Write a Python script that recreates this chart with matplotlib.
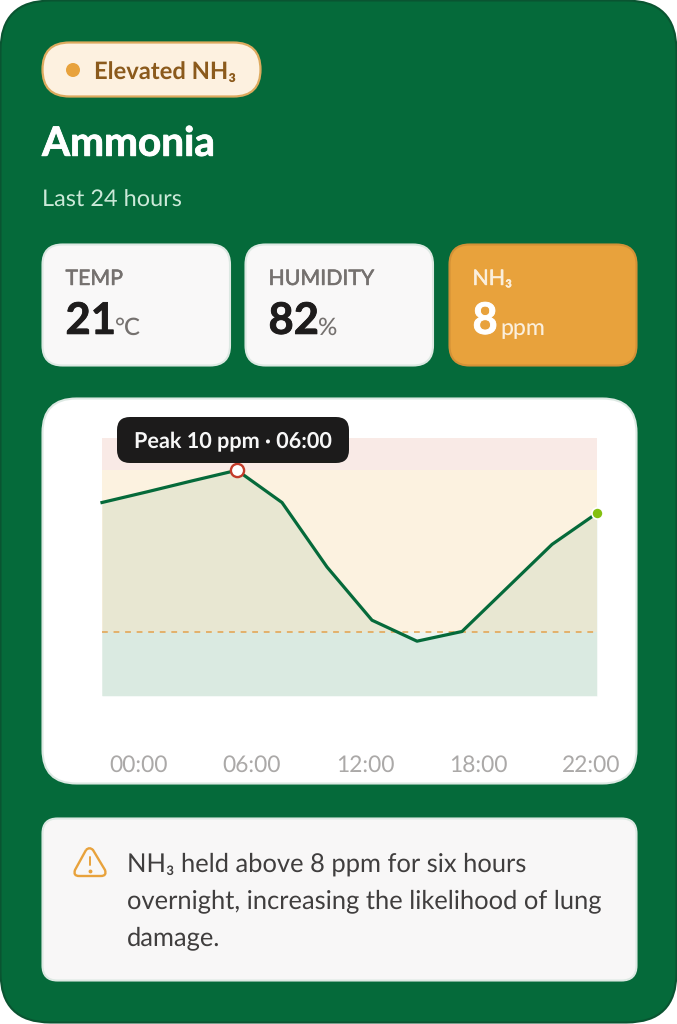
import matplotlib
matplotlib.use('Agg')
import matplotlib.pyplot as plt
from matplotlib.patches import FancyBboxPatch, Circle, PathPatch
from matplotlib.path import Path
import matplotlib.patheffects as pe
import numpy as np

plt.rcParams['font.family'] = ['Lato', 'DejaVu Sans']
plt.rcParams['text.hinting'] = 'no_hinting'

# chart data, one reading every 2 hours
hours = [0, 2, 4, 6, 8, 10, 12, 14, 16, 18, 20, 22]
nh3_ppm = [9.0, 9.33, 9.67, 10.0, 9.0, 7.0, 5.35, 4.7, 5.0, 6.35, 7.7, 8.67]
peak_hour = 6
peak_ppm = 10.0
threshold_ppm = 5.0
bands = [(10, 11, '#F9EAE6'), (5, 10, '#FCF2E0'), (3, 5, '#EDF5F0')]
time_labels = ['00:00', '06:00', '12:00', '18:00', '22:00']
time_label_x = [139, 252, 365, 478, 591]

stat_names = ['TEMP', 'HUMIDITY', 'NH₃']
stat_values = ['21', '82', '8']
stat_units = ['°C', '%', 'ppm']
note_lines = ['NH₃ held above 8 ppm for six hours',
              'overnight, increasing the likelihood of lung',
              'damage.']

GREEN = '#056A3A'
AMBER = '#E8A23C'
W, H = 677, 1024


def px(size):
    return size * 0.72


def card(ax, x0, y0, x1, y1, r, face, edge, lw=1.5, z=1):
    box = FancyBboxPatch((x0 + r, y0 + r), x1 - x0 - 2 * r, y1 - y0 - 2 * r,
                         boxstyle='round,pad=%f,rounding_size=%f' % (r, r),
                         fc=face, ec=edge, lw=lw, zorder=z)
    ax.add_patch(box)


def thick(t, w):
    t.set_path_effects([pe.withStroke(linewidth=w, foreground=t.get_color())])
    return t


fig = plt.figure(figsize=(W / 100, H / 100), dpi=100, facecolor='white')
bg = fig.add_axes([0, 0, 1, 1])
bg.set_xlim(0, W)
bg.set_ylim(H, 0)
bg.axis('off')

card(bg, 0.5, 0.5, 676.5, 1022.5, 50, GREEN, '#0A5431', lw=1.5)

# status pill
card(bg, 42.5, 42.5, 260.5, 96.5, 27, '#FDF1E0', '#DDAA5E', lw=1.6)
bg.add_patch(Circle((73, 70), 7, fc=AMBER, ec='none', zorder=3))
bg.text(94, 72.5, 'Elevated NH₃', fontsize=px(23.8), fontweight='bold', color='#8B5A1C',
        va='center', ha='left', zorder=3)

thick(bg.text(42, 144, 'Ammonia', fontsize=px(40.5), fontweight='bold', color='white', va='center'), 0.6)
bg.text(42, 200, 'Last 24 hours', fontsize=px(23.5), color='#CBE9D8', va='center')

# stat cards
card_x = [(42.5, 230), (245.5, 433), (449.5, 636.5)]
for i in range(3):
    hot = i == 2
    x0, x1 = card_x[i]
    card(bg, x0, 244.5, x1, 365.5, 20, AMBER if hot else '#F9F8F8',
         '#D39136' if hot else '#DDE9E3')
    thick(bg.text(x0 + 23, 279, stat_names[i], fontsize=px(21.3), color='#FBEFDC' if hot else '#75716F',
                  va='center', zorder=3), 0.4)
    t = thick(bg.text(x0 + 23, 321.5, stat_values[i], fontsize=px(43.5), fontweight='bold',
                      color='white' if hot else '#1E1C1C', va='center', zorder=3), 0.6)
    fig.canvas.draw()
    ext = t.get_window_extent()
    bg.text(ext.x1 + (3 if hot else -1), 335, stat_units[i], fontsize=px(24 if not hot else 23),
            color='#FBEFDC' if hot else '#75716F', va='baseline', zorder=3,
            fontweight='medium')

# chart card
card(bg, 42.5, 398.5, 636.5, 783.5, 34, 'white', '#DDE9E3')

ax = fig.add_axes([102 / W, 1 - 696 / H, 495 / W, 258 / H], zorder=2)
ax.patch.set_alpha(0)
ax.set_xlim(0, 22)
ax.set_ylim(3, 11)
ax.axis('off')
for lo, hi, col in bands:
    ax.axhspan(lo, hi, fc=col, ec='none', zorder=1)
ax.fill_between(hours, nh3_ppm, 3, color=GREEN, alpha=0.08, lw=0, zorder=2)
ax.axhline(threshold_ppm, color='#E3AC62', lw=1.3, dashes=(3.2, 3.2), zorder=3)
ax.plot(hours, nh3_ppm, color=GREEN, lw=2.3, zorder=4, clip_on=False, solid_joinstyle='round')
ax.plot([peak_hour], [peak_ppm], 'o', ms=9.5, mfc='white', mec='#C23B2A', mew=1.7, zorder=6, clip_on=False)
ax.plot(hours[-1:], nh3_ppm[-1:], 'o', ms=8, mfc='#84C011', mec='white', mew=1.2, zorder=6, clip_on=False)

# tooltip sits over the plot
top = fig.add_axes([0, 0, 1, 1], zorder=3)
top.set_xlim(0, W)
top.set_ylim(H, 0)
top.axis('off')
card(top, 117, 417, 349, 463, 13, '#1C1B1B', 'none', lw=0, z=5)
top.text(233, 441.5, 'Peak %d ppm · %02d:00' % (peak_ppm, peak_hour), fontsize=px(21.6), fontweight='bold',
         color='#F7F7F7', ha='center', va='center', zorder=6)

for lab, x in zip(time_labels, time_label_x):
    top.text(x, 765.5, lab, fontsize=px(22.8), color='#ABA9A8', ha='center', va='center')

# note card
card(bg, 42.5, 818.5, 636.5, 980.5, 15, '#F8F7F7', '#DDE9E3')
verts = [(86, 850), (89.5, 846.5), (93, 850), (105, 870), (107, 876), (101, 876), (79, 876),
         (73, 876), (75, 870), (86, 850)]
codes = [Path.MOVETO, Path.CURVE3, Path.CURVE3, Path.LINETO, Path.CURVE3, Path.CURVE3, Path.LINETO,
         Path.CURVE3, Path.CURVE3, Path.LINETO]
top.add_patch(PathPatch(Path(verts, codes), fc='none', ec=AMBER, lw=1.7, zorder=5))
top.plot([89.5, 89.5], [857, 865], color=AMBER, lw=1.4, solid_capstyle='round')
top.plot([89.5], [870.5], 'o', ms=1.8, color=AMBER)

for i, line in enumerate(note_lines):
    top.text(127, 864 + i * 37, line, fontsize=px(25.5), color='#403E3E', va='center')

fig.savefig('out.png', dpi=100, facecolor='white')
